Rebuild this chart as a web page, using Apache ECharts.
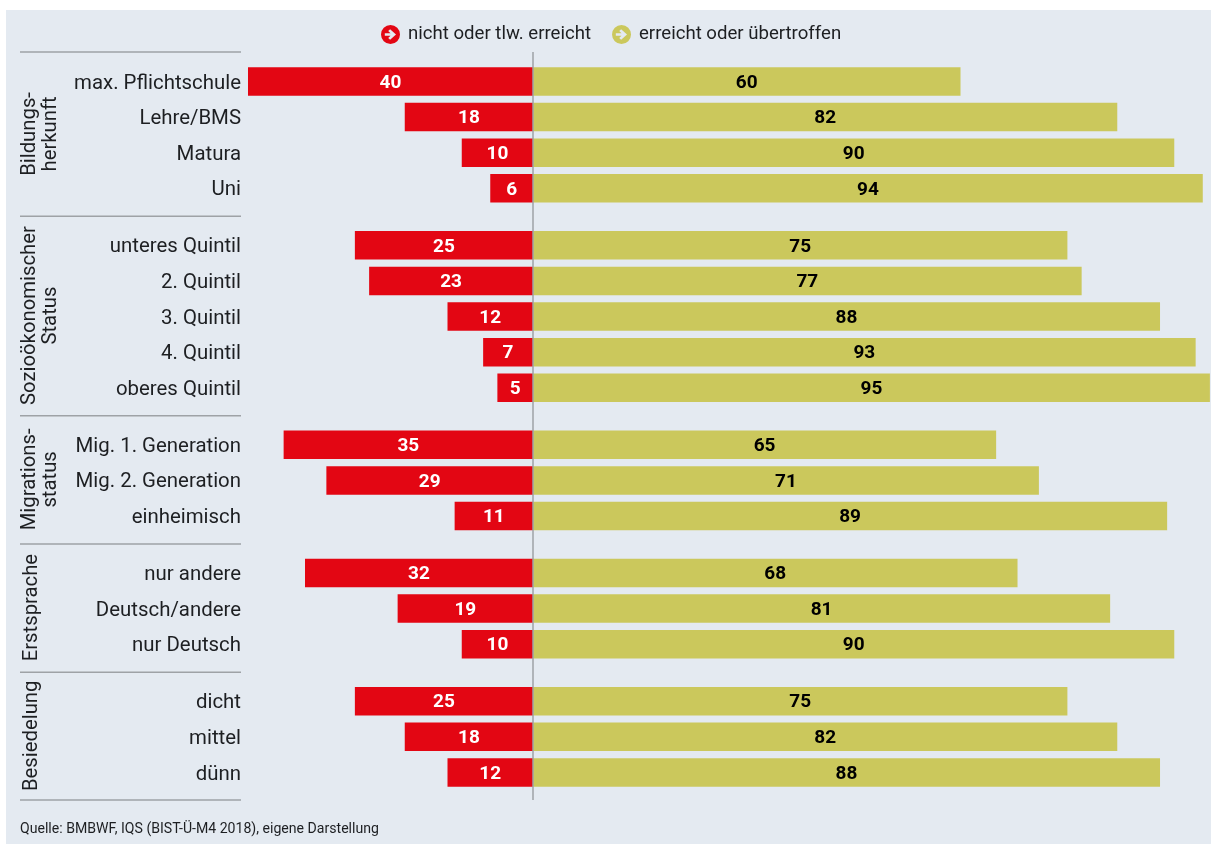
<!DOCTYPE html>
<html lang="de">
<head>
<meta charset="utf-8">
<title>Bildungsstandards nach Herkunft</title>
<script src="https://cdn.jsdelivr.net/npm/echarts@6/dist/echarts.min.js"></script>
<style>
html, body { margin: 0; padding: 0; background: #ffffff; }
#chart { width: 1211px; height: 844px; }
</style>
</head>
<body>
<div id="chart"></div>
<script>
// Row labels, top to bottom
const categories = [
  'max. Pflichtschule', 'Lehre/BMS', 'Matura', 'Uni',
  'unteres Quintil', '2. Quintil', '3. Quintil', '4. Quintil', 'oberes Quintil',
  'Mig. 1. Generation', 'Mig. 2. Generation', 'einheimisch',
  'nur andere', 'Deutsch/andere', 'nur Deutsch',
  'dicht', 'mittel', 'dünn'
];
// Percent of pupils per row
const notReached = [40, 18, 10, 6, 25, 23, 12, 7, 5, 35, 29, 11, 32, 19, 10, 25, 18, 12];
const reached = [60, 82, 90, 94, 75, 77, 88, 93, 95, 65, 71, 89, 68, 81, 90, 75, 82, 88];
// Row groups
const groupNames = ['Bildungs-\nherkunft', 'Sozioökonomischer\nStatus', 'Migrations-\nstatus', 'Erstsprache', 'Besiedelung'];
const groupSizes = [4, 5, 3, 3, 3];
const legendNames = ['nicht oder tlw. erreicht', 'erreicht oder übertroffen'];

const RED = '#e30613';
const OLIVE = '#cbc85c';
const INK = '#1d1f22';
const RULE = '#9ea2a6';
const FONT = 'Roboto, sans-serif';

// Rows sit on a fine category band so that groups can be spaced apart:
// five bands from row to row, three extra between groups, and a few empty
// bands at both ends so the outer bars are not clipped by the grid.
const ROW_STEP = 5;
const GROUP_EXTRA = 3;
const END_PAD = 3;
const rowSlots = [];
const groupSpans = [];
let slot = END_PAD;
groupSizes.forEach((size) => {
  const first = slot;
  for (let i = 0; i < size; i++) {
    rowSlots.push(slot);
    if (i < size - 1) slot += ROW_STEP;
  }
  groupSpans.push([first, slot]);
  slot += ROW_STEP + GROUP_EXTRA;
});
const lastRowSlot = rowSlots[rowSlots.length - 1];
const slotCount = lastRowSlot + 1 + END_PAD;

const axisLabels = new Array(slotCount).fill('');
const redData = new Array(slotCount).fill(null);
const oliveData = new Array(slotCount).fill(null);
rowSlots.forEach((s, i) => {
  axisLabels[s] = categories[i];
  redData[s] = -notReached[i];
  oliveData[s] = reached[i];
});

// Filled disc with an arrow cut out, used as legend marker
const ARROW_ICON = 'path://M10 0A10 10 0 1 1 10 20A10 10 0 1 1 10 0Z' +
  'M4 8.6L4 11.4L10 11.4L7.6 13.8L9.6 15.6L15.8 10L9.6 4.4L7.6 6.2L10 8.6Z';

const chart = echarts.init(document.getElementById('chart'), null, { renderer: 'canvas' });

const valueLabel = (color) => ({
  show: true,
  position: 'inside',
  offset: [0, 1.5],
  color,
  fontFamily: FONT,
  fontSize: 19,
  fontWeight: 'bold',
  formatter: (p) => Math.abs(p.value)
});

chart.setOption({
  animation: false,
  backgroundColor: '#ffffff',
  grid: { left: 248, top: 56.57, width: 961.9, height: 740.8 },
  legend: {
    left: 376,
    top: 20,
    itemWidth: 19,
    itemHeight: 19,
    itemGap: 21,
    icon: ARROW_ICON,
    data: legendNames,
    selectedMode: false,
    textStyle: { color: INK, fontFamily: FONT, fontSize: 18.6, padding: [0, 0, 0, 3] }
  },
  xAxis: { type: 'value', min: -40, max: 95, show: false },
  yAxis: {
    type: 'category',
    inverse: true,
    data: axisLabels,
    axisLine: { show: false },
    axisTick: { show: false },
    splitLine: { show: false },
    axisLabel: {
      interval: 0,
      margin: 7,
      formatter: (name) => (name ? '{row|' + name + '}' : ''),
      rich: {
        row: {
          color: INK,
          fontFamily: FONT,
          fontSize: 20.4,
          padding: [4, 0, 0, 0]
        }
      }
    }
  },
  series: [
    {
      name: legendNames[0],
      type: 'bar',
      stack: 'share',
      barWidth: 28.5,
      itemStyle: { color: RED },
      label: valueLabel('#ffffff'),
      data: redData
    },
    {
      name: legendNames[1],
      type: 'bar',
      stack: 'share',
      barWidth: 28.5,
      itemStyle: { color: OLIVE },
      label: valueLabel('#000000'),
      data: oliveData
    }
  ]
});

// Panel, rules, group captions and source line, placed from the chart's own scales
const y0 = chart.convertToPixel({ yAxisIndex: 0 }, 0);
const y1 = chart.convertToPixel({ yAxisIndex: 0 }, 1);
const slotY = (s) => y0 + (y1 - y0) * s;
const zeroX = chart.convertToPixel({ xAxisIndex: 0 }, 0);

const ruleYs = [slotY(rowSlots[0] - 4.14)];
for (let g = 0; g < groupSpans.length - 1; g++) {
  ruleYs.push(slotY((groupSpans[g][1] + groupSpans[g + 1][0]) / 2) - 0.5);
}
ruleYs.push(slotY(lastRowSlot + 3.88));

const graphics = [
  {
    type: 'rect', z: -10, silent: true,
    shape: { x: 6, y: 10, width: 1205, height: 834 },
    style: { fill: '#e4eaf1' }
  }
];
ruleYs.forEach((y) => {
  graphics.push({
    type: 'line', z: 5, silent: true,
    shape: { x1: 20, y1: y, x2: 241, y2: y },
    style: { stroke: RULE, lineWidth: 1.5 }
  });
});
graphics.push({
  type: 'line', z: 50, silent: true,
  shape: { x1: zeroX, y1: ruleYs[0], x2: zeroX, y2: ruleYs[ruleYs.length - 1] },
  style: { stroke: RULE, lineWidth: 1.5 }
});
groupNames.forEach((name, g) => {
  const twoLines = name.indexOf('\n') >= 0;
  graphics.push({
    type: 'text', z: 5, silent: true,
    x: twoLines ? 40.5 : 32,
    y: slotY((groupSpans[g][0] + groupSpans[g][1]) / 2) - 1,
    rotation: Math.PI / 2,
    style: {
      text: name,
      fill: INK,
      font: '20.3px ' + FONT,
      lineHeight: 21,
      align: 'center',
      verticalAlign: 'middle'
    }
  });
});
graphics.push({
  type: 'text', z: 5, silent: true,
  x: 20, y: 829,
  style: {
    text: 'Quelle: BMBWF, IQS (BIST-Ü-M4 2018), eigene Darstellung',
    fill: INK,
    font: '14.1px ' + FONT,
    align: 'left',
    verticalAlign: 'middle'
  }
});
chart.setOption({ graphic: { elements: graphics } });
</script>
</body>
</html>
